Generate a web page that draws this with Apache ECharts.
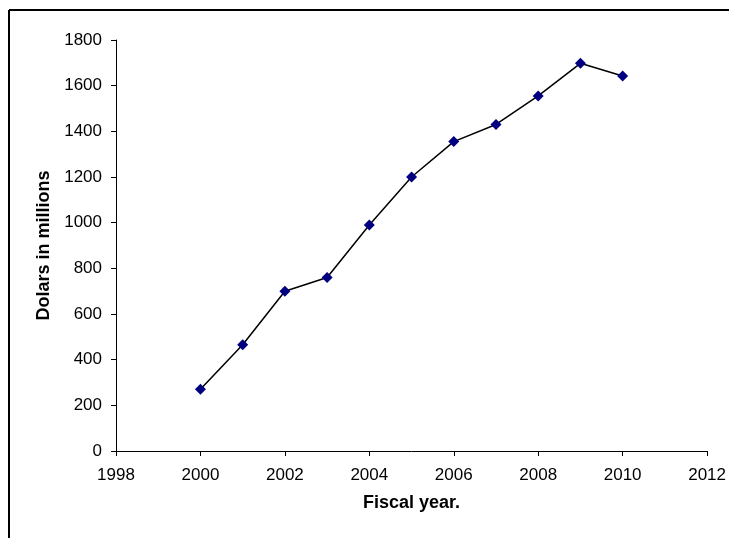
<!DOCTYPE html>
<html>
<head>
<meta charset="utf-8">
<script src="https://cdn.jsdelivr.net/npm/echarts@6/dist/echarts.min.js"></script>
<style>
  html, body { margin: 0; padding: 0; background: #fff; }
  #chart { width: 729px; height: 538px; }
</style>
</head>
<body>
<div id="chart"></div>
<script>
// Fiscal years and spending (dollars in millions)
const years = [2000, 2001, 2002, 2003, 2004, 2005, 2006, 2007, 2008, 2009, 2010];
const dollars = [270, 465, 700, 760, 990, 1200, 1355, 1430, 1555, 1698, 1642];

const xAxisTitle = 'Fiscal year.';
const yAxisTitle = 'Dolars in millions';

const chart = echarts.init(document.getElementById('chart'));
const font = 'Liberation Sans, Arial, sans-serif';
const plain = v => String(v);

chart.setOption({
  backgroundColor: '#fff',
  animation: false,
  grid: { left: 116, right: 18, top: 40, bottom: 87, containLabel: false },
  graphic: [
    { type: 'line', shape: { x1: 9, y1: 10, x2: 729, y2: 10 }, style: { stroke: '#000', lineWidth: 2 } },
    { type: 'line', shape: { x1: 9, y1: 10, x2: 9, y2: 538 }, style: { stroke: '#000', lineWidth: 2 } }
  ],
  xAxis: {
    type: 'value',
    min: 1998, max: 2012, interval: 2,
    name: xAxisTitle,
    nameLocation: 'middle',
    nameGap: 43,
    nameTextStyle: { fontFamily: font, fontSize: 18, fontWeight: 'bold', color: '#000' },
    axisLine: { onZero: false, lineStyle: { color: '#000', width: 1 } },
    axisTick: { inside: false, length: 5, lineStyle: { color: '#000' } },
    axisLabel: { margin: 16, fontFamily: font, fontSize: 17, color: '#000', formatter: plain },
    splitLine: { show: false }
  },
  yAxis: {
    type: 'value',
    min: 0, max: 1800, interval: 200,
    name: yAxisTitle,
    nameLocation: 'middle',
    nameRotate: 90,
    nameGap: 60,
    nameTextStyle: { fontFamily: font, fontSize: 18, fontWeight: 'bold', color: '#000' },
    axisLine: { show: true, lineStyle: { color: '#000', width: 1 } },
    axisTick: { show: true, inside: false, length: 5, lineStyle: { color: '#000' } },
    axisLabel: { margin: 14, fontFamily: font, fontSize: 17, color: '#000', formatter: plain },
    splitLine: { show: false }
  },
  series: [{
    type: 'line',
    data: years.map((y, i) => [y, dollars[i]]),
    symbol: 'diamond',
    symbolSize: 11,
    lineStyle: { color: '#000', width: 1.5 },
    itemStyle: { color: '#000080' }
  }]
});
</script>
</body>
</html>
